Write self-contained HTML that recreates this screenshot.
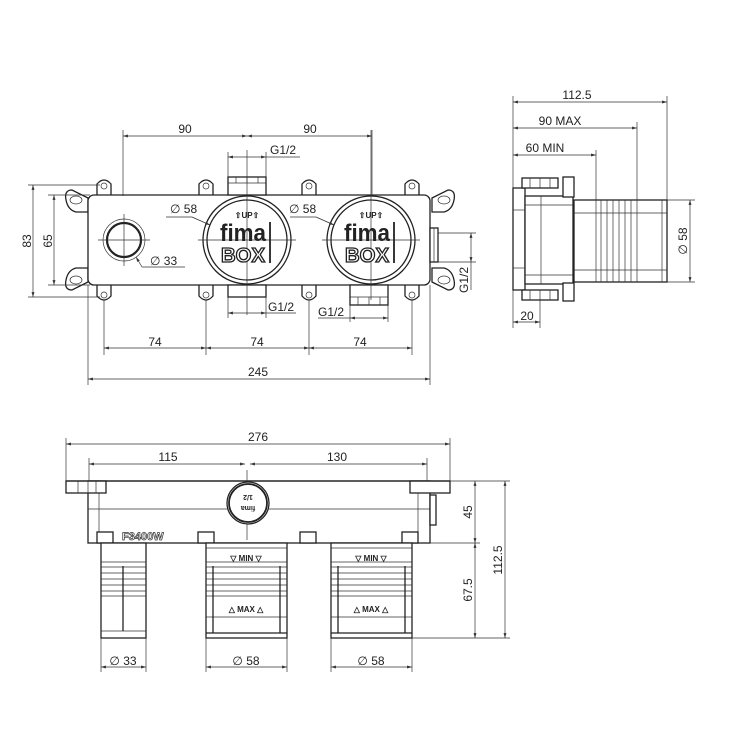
<!DOCTYPE html>
<html><head><meta charset="utf-8"><style>
html,body{margin:0;padding:0;background:#fff}
svg{display:block}
text{font-family:"Liberation Sans",Arial,sans-serif;fill:#222;font-size:12px}
.l{stroke:#222;stroke-width:1.3;fill:none}
.t{stroke:#333;stroke-width:0.7;fill:none}
.k{stroke:#222;stroke-width:1.8;fill:none}
.f{stroke:#222;stroke-width:1.3;fill:#fff}
</style></head><body>
<svg width="750" height="750" viewBox="0 0 750 750" xmlns="http://www.w3.org/2000/svg">
<defs>
<marker id="a" viewBox="0 0 10 10" refX="10" refY="5" markerWidth="7" markerHeight="7" orient="auto-start-reverse"><path d="M0,2 L10,5 L0,8 z" fill="#333"/></marker>
</defs>

<!-- ===== FRONT VIEW ===== -->
<g class="f">
<path d="M88,198 L72,190 Q64,190 66,200 Q68,210 76,212 L88,212 Z"/>
<path d="M88,282 L72,290 Q64,290 66,280 Q68,270 76,268 L88,268 Z"/>
<path d="M432,198 L448,190 Q456,190 454,200 Q452,210 444,212 L432,212 Z"/>
<path d="M432,282 L448,290 Q456,290 454,280 Q452,270 444,268 L432,268 Z"/>
</g>
<g class="t"><ellipse cx="76" cy="200" rx="6" ry="4"/><ellipse cx="76" cy="280" rx="6" ry="4"/><ellipse cx="444" cy="200" rx="6" ry="4"/><ellipse cx="444" cy="280" rx="6" ry="4"/></g>
<g class="f">
<path d="M97,196 L97,184 Q104,176 111,184 L111,196"/><path d="M199,196 L199,184 Q206,176 213,184 L213,196"/>
<path d="M302,196 L302,184 Q309,176 316,184 L316,196"/><path d="M405,196 L405,184 Q412,176 419,184 L419,196"/>
<path d="M97,284 L97,296 Q104,304 111,296 L111,284"/><path d="M199,284 L199,296 Q206,304 213,296 L213,284"/>
<path d="M302,284 L302,296 Q309,304 316,296 L316,284"/><path d="M405,284 L405,296 Q412,304 419,296 L419,284"/>
</g>
<g class="t"><circle cx="104" cy="186" r="3"/><circle cx="206" cy="186" r="3"/><circle cx="309" cy="186" r="3"/><circle cx="412" cy="186" r="3"/>
<circle cx="104" cy="295" r="3"/><circle cx="206" cy="295" r="3"/><circle cx="309" cy="295" r="3"/><circle cx="412" cy="295" r="3"/></g>
<rect x="88" y="195" width="342" height="90" rx="6" class="f"/>
<rect x="228" y="177" width="38" height="18" class="f"/><line x1="228" y1="183" x2="266" y2="183" class="t"/>
<line x1="236" y1="177" x2="236" y2="183" class="t"/><line x1="247" y1="177" x2="247" y2="183" class="t"/><line x1="258" y1="177" x2="258" y2="183" class="t"/>
<rect x="228" y="285" width="38" height="12" class="f"/>
<rect x="350" y="285" width="38" height="20" class="f"/><line x1="350" y1="297" x2="388" y2="297" class="t"/>
<line x1="358" y1="297" x2="358" y2="305" class="t"/><line x1="369" y1="297" x2="369" y2="305" class="t"/><line x1="380" y1="297" x2="380" y2="305" class="t"/>
<rect x="430" y="228" width="8" height="34" class="f"/><line x1="434" y1="228" x2="434" y2="262" class="t"/>
<circle cx="124" cy="240" r="21" class="t"/><circle cx="124" cy="240" r="17" class="k" style="stroke-width:2.2"/>
<g class="t"><line x1="98" y1="240" x2="150" y2="240"/><line x1="124" y1="214" x2="124" y2="266"/></g>
<circle cx="247" cy="240" r="44" class="l"/><circle cx="247" cy="240" r="40" class="l"/>
<circle cx="371" cy="240" r="44" class="l"/><circle cx="371" cy="240" r="40" class="l"/>
<g class="t"><line x1="198" y1="240" x2="296" y2="240"/><line x1="247" y1="150" x2="247" y2="315"/>
<line x1="322" y1="240" x2="420" y2="240"/><line x1="371" y1="130" x2="371" y2="300"/></g>
<g font-weight="bold">
<text x="247" y="218" text-anchor="middle" style="font-size:8px">⇧UP⇧</text>
<text x="243" y="241" text-anchor="middle" textLength="46" lengthAdjust="spacingAndGlyphs" style="font-size:24px">fima</text>
<text x="243" y="262" text-anchor="middle" textLength="44" lengthAdjust="spacingAndGlyphs" style="font-size:20px;fill:#fff;stroke:#222;stroke-width:1.3">BOX</text>
<text x="371" y="218" text-anchor="middle" style="font-size:8px">⇧UP⇧</text>
<text x="367" y="241" text-anchor="middle" textLength="46" lengthAdjust="spacingAndGlyphs" style="font-size:24px">fima</text>
<text x="367" y="262" text-anchor="middle" textLength="44" lengthAdjust="spacingAndGlyphs" style="font-size:20px;fill:#fff;stroke:#222;stroke-width:1.3">BOX</text>
</g>
<line x1="270" y1="222" x2="270" y2="263" class="k"/><line x1="394" y1="222" x2="394" y2="263" class="k"/>
<g class="t">
<line x1="123" y1="130" x2="123" y2="196"/><line x1="372" y1="130" x2="372" y2="196"/>
<line x1="123" y1="136" x2="247" y2="136" marker-start="url(#a)" marker-end="url(#a)"/>
<line x1="247" y1="136" x2="372" y2="136" marker-start="url(#a)" marker-end="url(#a)"/>
<line x1="228" y1="152" x2="228" y2="177"/><line x1="266" y1="152" x2="266" y2="177"/>
<line x1="228" y1="157" x2="266" y2="157" marker-start="url(#a)" marker-end="url(#a)"/><line x1="266" y1="157" x2="300" y2="157"/>
<line x1="228" y1="297" x2="228" y2="318"/><line x1="266" y1="297" x2="266" y2="318"/>
<line x1="228" y1="313" x2="266" y2="313" marker-start="url(#a)" marker-end="url(#a)"/><line x1="266" y1="313" x2="296" y2="313"/>
<line x1="350" y1="305" x2="350" y2="322"/><line x1="388" y1="305" x2="388" y2="322"/>
<line x1="350" y1="318" x2="388" y2="318" marker-start="url(#a)" marker-end="url(#a)"/><line x1="318" y1="318" x2="350" y2="318"/>
<line x1="166" y1="217" x2="192" y2="217"/><line x1="192" y1="217" x2="210" y2="225" marker-end="url(#a)"/>
<line x1="290" y1="217" x2="316" y2="217"/><line x1="316" y1="217" x2="334" y2="225" marker-end="url(#a)"/>
<line x1="185" y1="267" x2="142" y2="267"/><line x1="142" y1="267" x2="136" y2="257" marker-end="url(#a)"/>
<line x1="104" y1="300" x2="104" y2="355"/><line x1="206" y1="300" x2="206" y2="355"/><line x1="309" y1="300" x2="309" y2="355"/><line x1="412" y1="300" x2="412" y2="355"/>
<line x1="104" y1="348" x2="206" y2="348" marker-start="url(#a)" marker-end="url(#a)"/>
<line x1="206" y1="348" x2="309" y2="348" marker-start="url(#a)" marker-end="url(#a)"/>
<line x1="309" y1="348" x2="412" y2="348" marker-start="url(#a)" marker-end="url(#a)"/>
<line x1="88" y1="285" x2="88" y2="385"/><line x1="430" y1="285" x2="430" y2="385"/>
<line x1="88" y1="379" x2="430" y2="379" marker-start="url(#a)" marker-end="url(#a)"/>
<line x1="28" y1="185" x2="100" y2="185"/><line x1="28" y1="297" x2="100" y2="297"/>
<line x1="33" y1="185" x2="33" y2="297" marker-start="url(#a)" marker-end="url(#a)"/>
<line x1="48" y1="195" x2="90" y2="195"/><line x1="48" y1="285" x2="90" y2="285"/>
<line x1="54" y1="195" x2="54" y2="285" marker-start="url(#a)" marker-end="url(#a)"/>
<line x1="438" y1="233" x2="476" y2="233"/><line x1="438" y1="262" x2="476" y2="262"/>
<line x1="471" y1="233" x2="471" y2="262" marker-start="url(#a)" marker-end="url(#a)"/>
<line x1="471" y1="262" x2="471" y2="290"/>
</g>
<g>
<text x="185" y="133" text-anchor="middle">90</text><text x="310" y="133" text-anchor="middle">90</text>
<text x="270" y="154">G1/2</text>
<text x="170" y="213">∅ 58</text><text x="289" y="213">∅ 58</text>
<text x="150" y="265">∅ 33</text>
<text x="268" y="311">G1/2</text><text x="318" y="316">G1/2</text>
<text x="155" y="346" text-anchor="middle">74</text><text x="257" y="346" text-anchor="middle">74</text><text x="360" y="346" text-anchor="middle">74</text>
<text x="258" y="376" text-anchor="middle">245</text>
<text transform="translate(31,241) rotate(-90)" text-anchor="middle">83</text>
<text transform="translate(52,241) rotate(-90)" text-anchor="middle">65</text>
<text transform="translate(468,280) rotate(-90)" text-anchor="middle">G1/2</text>
</g>

<!-- ===== SIDE VIEW ===== -->
<rect x="513" y="188" width="12" height="102" class="f"/>
<rect x="525" y="196" width="48" height="88" class="f"/>
<line x1="541" y1="196" x2="541" y2="284" class="t"/>
<rect x="522" y="178" width="36" height="10" class="f"/><rect x="522" y="290" width="36" height="10" class="f"/>
<g class="t"><line x1="530" y1="178" x2="530" y2="188"/><line x1="540" y1="178" x2="540" y2="188"/><line x1="550" y1="178" x2="550" y2="188"/>
<line x1="530" y1="290" x2="530" y2="300"/><line x1="540" y1="290" x2="540" y2="300"/><line x1="550" y1="290" x2="550" y2="300"/>
<line x1="513" y1="210" x2="525" y2="210"/><line x1="513" y1="268" x2="525" y2="268"/><line x1="525" y1="205" x2="573" y2="205"/><line x1="525" y1="275" x2="573" y2="275"/></g>
<rect x="563" y="177" width="11" height="20" class="f"/><rect x="563" y="283" width="11" height="18" class="f"/>
<rect x="574" y="200" width="93" height="82" class="f"/>
<g class="t"><line x1="574" y1="213" x2="667" y2="213"/><line x1="574" y1="270" x2="667" y2="270"/>
<line x1="596" y1="200" x2="596" y2="282"/><line x1="601" y1="200" x2="601" y2="282"/><line x1="607" y1="200" x2="607" y2="282"/><line x1="613" y1="200" x2="613" y2="282"/>
<line x1="619" y1="200" x2="619" y2="282"/><line x1="625" y1="200" x2="625" y2="282"/><line x1="631" y1="200" x2="631" y2="282"/><line x1="637" y1="200" x2="637" y2="282"/>
<line x1="662" y1="200" x2="662" y2="282"/>
<line x1="513" y1="96" x2="513" y2="188"/><line x1="667" y1="96" x2="667" y2="200"/><line x1="637" y1="122" x2="637" y2="200"/><line x1="596" y1="150" x2="596" y2="200"/>
<line x1="513" y1="102" x2="667" y2="102" marker-start="url(#a)" marker-end="url(#a)"/>
<line x1="513" y1="128" x2="637" y2="128" marker-start="url(#a)" marker-end="url(#a)"/>
<line x1="513" y1="155" x2="596" y2="155" marker-start="url(#a)" marker-end="url(#a)"/>
<line x1="513" y1="290" x2="513" y2="328"/><line x1="540" y1="300" x2="540" y2="328"/>
<line x1="513" y1="322" x2="540" y2="322" marker-start="url(#a)" marker-end="url(#a)"/>
<line x1="667" y1="200" x2="695" y2="200"/><line x1="667" y1="282" x2="695" y2="282"/>
<line x1="690" y1="200" x2="690" y2="282" marker-start="url(#a)" marker-end="url(#a)"/></g>
<text x="577" y="99" text-anchor="middle">112.5</text>
<text x="560" y="125" text-anchor="middle">90 MAX</text>
<text x="545" y="152" text-anchor="middle">60 MIN</text>
<text x="527" y="320" text-anchor="middle">20</text>
<text transform="translate(687,241) rotate(-90)" text-anchor="middle">∅ 58</text>

<!-- ===== BOTTOM VIEW ===== -->
<rect x="88" y="481" width="342" height="62" class="f"/>
<rect x="66" y="481" width="40" height="12" class="f"/><rect x="410" y="481" width="40" height="12" class="f"/>
<line x1="66" y1="481" x2="450" y2="481" class="l"/>
<g class="t"><line x1="78" y1="481" x2="78" y2="493"/><line x1="88" y1="481" x2="88" y2="493"/><line x1="96" y1="481" x2="96" y2="493"/>
<line x1="88" y1="509" x2="430" y2="509"/><line x1="99" y1="493" x2="99" y2="543"/><line x1="418" y1="493" x2="418" y2="543"/>
<line x1="247" y1="470" x2="247" y2="540"/></g>
<rect x="430" y="495" width="6" height="30" class="f"/>
<circle cx="248" cy="503" r="21" class="f"/><circle cx="248" cy="503" r="19" class="k"/>
<text x="248" y="500" text-anchor="middle" transform="rotate(180 248 503)" style="font-size:7px;font-weight:bold">fima</text>
<text x="248" y="511" text-anchor="middle" transform="rotate(180 248 503)" style="font-size:7px;font-weight:bold">1/2</text>
<text x="122" y="540" style="font-size:11px;font-weight:bold;fill:#fff;stroke:#333;stroke-width:0.7">F3400W</text>
<g class="f"><rect x="97" y="532" width="16" height="11"/><rect x="198" y="532" width="16" height="11"/><rect x="300" y="532" width="16" height="11"/><rect x="402" y="532" width="16" height="11"/></g>
<rect x="101" y="543" width="45" height="95" class="f"/>
<g class="t"><line x1="101" y1="562" x2="146" y2="562"/><line x1="101" y1="567" x2="146" y2="567"/><line x1="101" y1="573" x2="146" y2="573"/><line x1="101" y1="579" x2="146" y2="579"/><line x1="101" y1="585" x2="146" y2="585"/><line x1="101" y1="591" x2="146" y2="591"/><line x1="101" y1="596" x2="146" y2="596"/><line x1="101" y1="631" x2="146" y2="631"/></g>
<line x1="123" y1="566" x2="123" y2="631" class="l"/>
<g id="cart">
<rect x="206" y="543" width="81" height="95" class="f"/>
<g class="t"><line x1="206" y1="548" x2="287" y2="548"/><line x1="206" y1="562" x2="287" y2="562"/><line x1="206" y1="567" x2="287" y2="567"/><line x1="206" y1="573" x2="287" y2="573"/><line x1="206" y1="579" x2="287" y2="579"/><line x1="206" y1="585" x2="287" y2="585"/><line x1="206" y1="591" x2="287" y2="591"/><line x1="206" y1="596" x2="287" y2="596"/><line x1="206" y1="617" x2="287" y2="617"/></g>
<line x1="213" y1="566" x2="213" y2="633" class="l"/><line x1="280" y1="566" x2="280" y2="633" class="l"/>
<line x1="206" y1="633" x2="287" y2="633" class="l"/>
<text x="246" y="561" text-anchor="middle" style="font-size:8px;font-weight:bold">▽ MIN ▽</text>
<text x="246" y="612" text-anchor="middle" style="font-size:8px;font-weight:bold">△ MAX △</text>
</g>
<use href="#cart" x="125"/>
<g class="t">
<line x1="66" y1="438" x2="66" y2="481"/><line x1="450" y1="438" x2="450" y2="481"/>
<line x1="66" y1="444" x2="450" y2="444" marker-start="url(#a)" marker-end="url(#a)"/>
<line x1="89" y1="458" x2="89" y2="481"/><line x1="427" y1="458" x2="427" y2="481"/>
<line x1="89" y1="464" x2="245" y2="464" marker-start="url(#a)" marker-end="url(#a)"/>
<line x1="250" y1="464" x2="427" y2="464" marker-start="url(#a)" marker-end="url(#a)"/>
<line x1="450" y1="481" x2="510" y2="481"/><line x1="430" y1="543" x2="480" y2="543"/><line x1="412" y1="638" x2="510" y2="638"/>
<line x1="475" y1="481" x2="475" y2="543" marker-start="url(#a)" marker-end="url(#a)"/>
<line x1="475" y1="543" x2="475" y2="638" marker-start="url(#a)" marker-end="url(#a)"/>
<line x1="505" y1="481" x2="505" y2="638" marker-start="url(#a)" marker-end="url(#a)"/>
<line x1="101" y1="638" x2="101" y2="672"/><line x1="146" y1="638" x2="146" y2="672"/>
<line x1="206" y1="638" x2="206" y2="672"/><line x1="287" y1="638" x2="287" y2="672"/>
<line x1="331" y1="638" x2="331" y2="672"/><line x1="412" y1="638" x2="412" y2="672"/>
<line x1="101" y1="667" x2="146" y2="667" marker-start="url(#a)" marker-end="url(#a)"/>
<line x1="206" y1="667" x2="287" y2="667" marker-start="url(#a)" marker-end="url(#a)"/>
<line x1="331" y1="667" x2="412" y2="667" marker-start="url(#a)" marker-end="url(#a)"/>
</g>
<text x="258" y="441" text-anchor="middle">276</text>
<text x="168" y="461" text-anchor="middle">115</text>
<text x="337" y="461" text-anchor="middle">130</text>
<text transform="translate(472,512) rotate(-90)" text-anchor="middle">45</text>
<text transform="translate(472,590) rotate(-90)" text-anchor="middle">67.5</text>
<text transform="translate(502,560) rotate(-90)" text-anchor="middle">112.5</text>
<text x="123" y="665" text-anchor="middle">∅ 33</text>
<text x="246" y="665" text-anchor="middle">∅ 58</text>
<text x="371" y="665" text-anchor="middle">∅ 58</text>
</svg>
</body></html>
